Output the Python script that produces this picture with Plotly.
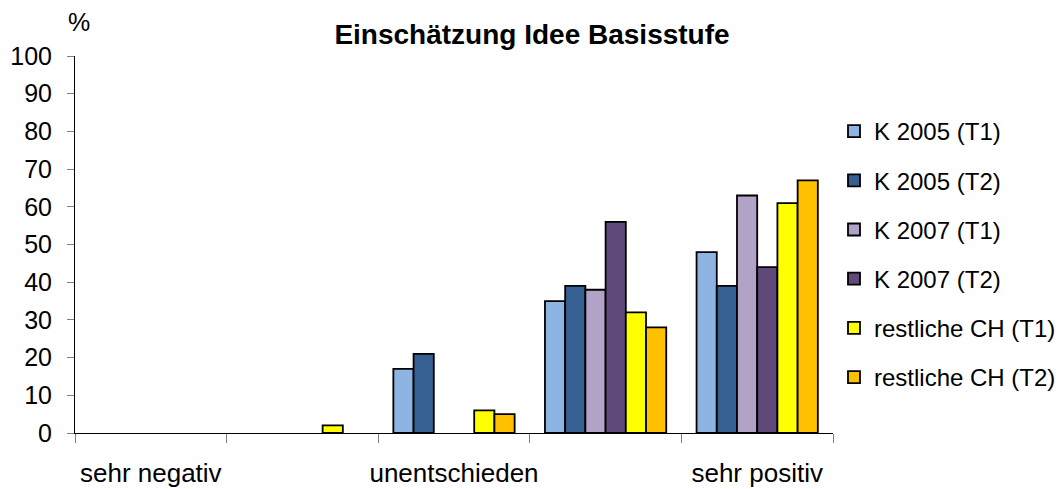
import plotly.graph_objects as go

categories = ["sehr negativ", "", "unentschieden", "", "sehr positiv"]
series_names = ["K 2005 (T1)", "K 2005 (T2)", "K 2007 (T1)", "K 2007 (T2)",
                "restliche CH (T1)", "restliche CH (T2)"]
k2005_t1 = [0, 0, 17, 35, 48]
k2005_t2 = [0, 0, 21, 39, 39]
k2007_t1 = [0, 0, 0, 38, 63]
k2007_t2 = [0, 0, 0, 56, 44]
rest_t1 = [0, 2, 6, 32, 61]
rest_t2 = [0, 0, 5, 28, 67]
series_values = [k2005_t1, k2005_t2, k2007_t1, k2007_t2, rest_t1, rest_t2]
colors = ["#8EB4E3", "#366092", "#B2A2C7", "#604A7B", "#FFFF00", "#FFC000"]
y_ticks = list(range(0, 101, 10))

FONT = "Liberation Sans, Arial, sans-serif"
W, H = 1062, 489
L, R, T, B = 75, 229, 56, 56

xpos = list(range(len(categories)))

fig = go.Figure()
for name, vals, col in zip(series_names, series_values, colors):
    fig.add_trace(go.Bar(
        x=xpos, y=[v if v else None for v in vals], name=name,
        marker=dict(color=col, line=dict(color="black", width=1.8)),
        legendgroup=name,
    ))

fig.update_layout(
    width=W, height=H,
    margin=dict(l=L, r=R, t=T, b=B, pad=0, autoexpand=False),
    paper_bgcolor="white", plot_bgcolor="white",
    barmode="group", bargap=0.2, bargroupgap=0,
    font=dict(family=FONT, color="black"),
    title=dict(text="<b>Einschätzung Idee Basisstufe</b>",
               font=dict(size=28, family=FONT, color="black"),
               x=532 / W, xref="container", xanchor="center",
               y=1 - 34.5 / H, yref="container", yanchor="middle",
               automargin=False),
    legend=dict(font=dict(size=24, family=FONT, color="black"),
                x=834 / W, xref="container", xanchor="left",
                y=1 - 109 / H, yref="container", yanchor="top",
                tracegroupgap=15, itemwidth=30, maxheight=700,
                bgcolor="rgba(0,0,0,0)"),
    showlegend=True,
)

fig.update_xaxes(
    range=[-0.5, len(categories) - 0.5], automargin=False,
    tickmode="array", tickvals=[i for i, c in enumerate(categories) if c],
    ticktext=[c for c in categories if c],
    ticks="", tickfont=dict(size=26, family=FONT, color="black"),
    ticklabelstandoff=17,
    showline=True, linecolor="black", linewidth=1,
    showgrid=False, zeroline=False,
    minor=dict(tickmode="array",
               tickvals=[i - 0.5 for i in range(len(categories) + 1)],
               ticks="outside", ticklen=9, tickcolor="#808080", tickwidth=1,
               showgrid=False),
)
fig.update_yaxes(
    range=[0, 100], automargin=False, tickmode="array", tickvals=y_ticks,
    ticks="outside", ticklen=7, tickcolor="#808080", tickwidth=1,
    tickfont=dict(size=25, family=FONT, color="black"),
    ticklabelstandoff=10,
    showline=True, linecolor="black", linewidth=1,
    showgrid=False, zeroline=False,
)

fig.add_annotation(text="%", xref="paper", yref="paper",
                   x=(79 - L) / (W - L - R), y=1 + (T - 22) / (H - T - B),
                   xanchor="center", yanchor="middle", showarrow=False,
                   font=dict(size=25, family=FONT, color="black"))

fig.write_html("out.html",
               config={"displayModeBar": False},
               post_script="document.body.style.margin='0';"
                           "document.body.style.overflow='hidden';")
